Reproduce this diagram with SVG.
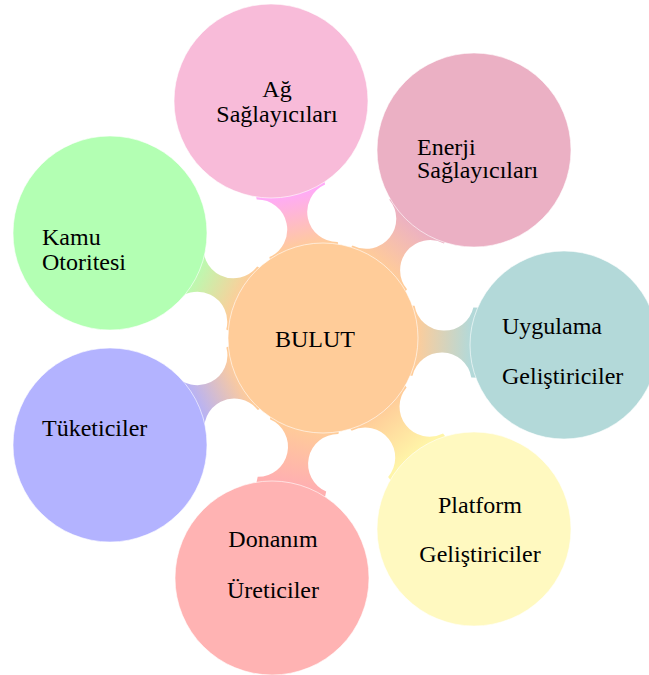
<svg xmlns="http://www.w3.org/2000/svg" width="649" height="675" viewBox="0 0 649 675">
<style>
.c{stroke:#ffffff;stroke-opacity:0.6;stroke-width:1}
text{font-family:'Liberation Serif','DejaVu Serif',serif;font-size:24px;fill:#000}
.m{text-anchor:middle}
</style>
<defs>
<path id="conn" d="M75,-35 L90.6,-35 A30,30 0 0 0 149.4,-35 L165,-35 L165,35 L149.4,35 A30,30 0 0 0 90.6,35 L75,35 Z"/>
<linearGradient id="gAg" gradientUnits="userSpaceOnUse" x1="92" y1="0" x2="148" y2="0"><stop offset="0" stop-color="#FFCC99"/><stop offset="1" stop-color="#FFAAF8"/></linearGradient>
<linearGradient id="gEn" gradientUnits="userSpaceOnUse" x1="92" y1="0" x2="148" y2="0"><stop offset="0" stop-color="#FFCC99"/><stop offset="1" stop-color="#EBB0C4"/></linearGradient>
<linearGradient id="gUy" gradientUnits="userSpaceOnUse" x1="92" y1="0" x2="148" y2="0"><stop offset="0" stop-color="#FFCC99"/><stop offset="1" stop-color="#B3D9D9"/></linearGradient>
<linearGradient id="gPl" gradientUnits="userSpaceOnUse" x1="92" y1="0" x2="148" y2="0"><stop offset="0" stop-color="#FFCC99"/><stop offset="1" stop-color="#FFF5A8"/></linearGradient>
<linearGradient id="gDo" gradientUnits="userSpaceOnUse" x1="92" y1="0" x2="148" y2="0"><stop offset="0" stop-color="#FFCC99"/><stop offset="1" stop-color="#FFB0B0"/></linearGradient>
<linearGradient id="gTu" gradientUnits="userSpaceOnUse" x1="92" y1="0" x2="148" y2="0"><stop offset="0" stop-color="#FFCC99"/><stop offset="1" stop-color="#AFAFFF"/></linearGradient>
<linearGradient id="gKa" gradientUnits="userSpaceOnUse" x1="92" y1="0" x2="148" y2="0"><stop offset="0" stop-color="#FFCC99"/><stop offset="1" stop-color="#B3FFB3"/></linearGradient>
</defs>
<rect width="649" height="675" fill="#ffffff"/>
<g id="connectors">
<use href="#conn" fill="url(#gAg)" transform="translate(323 338) rotate(-102.4)"/>
<use href="#conn" fill="url(#gEn)" transform="translate(323 338) rotate(-51.2)"/>
<use href="#conn" fill="url(#gUy)" transform="translate(323 338) rotate(1.7)"/>
<use href="#conn" fill="url(#gPl)" transform="translate(323 338) rotate(51.7)"/>
<use href="#conn" fill="url(#gDo)" transform="translate(323 338) rotate(102)"/>
<use href="#conn" fill="url(#gTu)" transform="translate(323 338) rotate(153.3)"/>
<use href="#conn" fill="url(#gKa)" transform="translate(323 338) rotate(206.2)"/>
</g>
<g id="bulut"><circle class="c" cx="323" cy="338" r="95" fill="#FFCC99"/><text class="m" x="315" y="347">BULUT</text></g>
<g id="ag"><circle class="c" cx="271" cy="101" r="97" fill="#F8BBD9"/><text class="m" x="277" y="97">Ağ</text><text class="m" x="277" y="122">Sağlayıcıları</text></g>
<g id="enerji"><circle class="c" cx="474" cy="150" r="97" fill="#EBB0C4"/><text x="417" y="155">Enerji</text><text x="417" y="178">Sağlayıcıları</text></g>
<g id="uygulama"><circle class="c" cx="564" cy="345" r="94" fill="#B3D9D9"/><text x="502" y="334">Uygulama</text><text x="502" y="384">Geliştiriciler</text></g>
<g id="platform"><circle class="c" cx="474" cy="529" r="97" fill="#FFF9C0"/><text class="m" x="480" y="513">Platform</text><text class="m" x="480" y="562">Geliştiriciler</text></g>
<g id="donanim"><circle class="c" cx="272" cy="578" r="97" fill="#FFB3B3"/><text class="m" x="273" y="547">Donanım</text><text class="m" x="273" y="598">Üreticiler</text></g>
<g id="tuketiciler"><circle class="c" cx="110" cy="445" r="97" fill="#B3B3FF"/><text x="42" y="436">Tüketiciler</text></g>
<g id="kamu"><circle class="c" cx="110" cy="233" r="97" fill="#B3FFB3"/><text x="42" y="245">Kamu</text><text x="42" y="270">Otoritesi</text></g>
</svg>
